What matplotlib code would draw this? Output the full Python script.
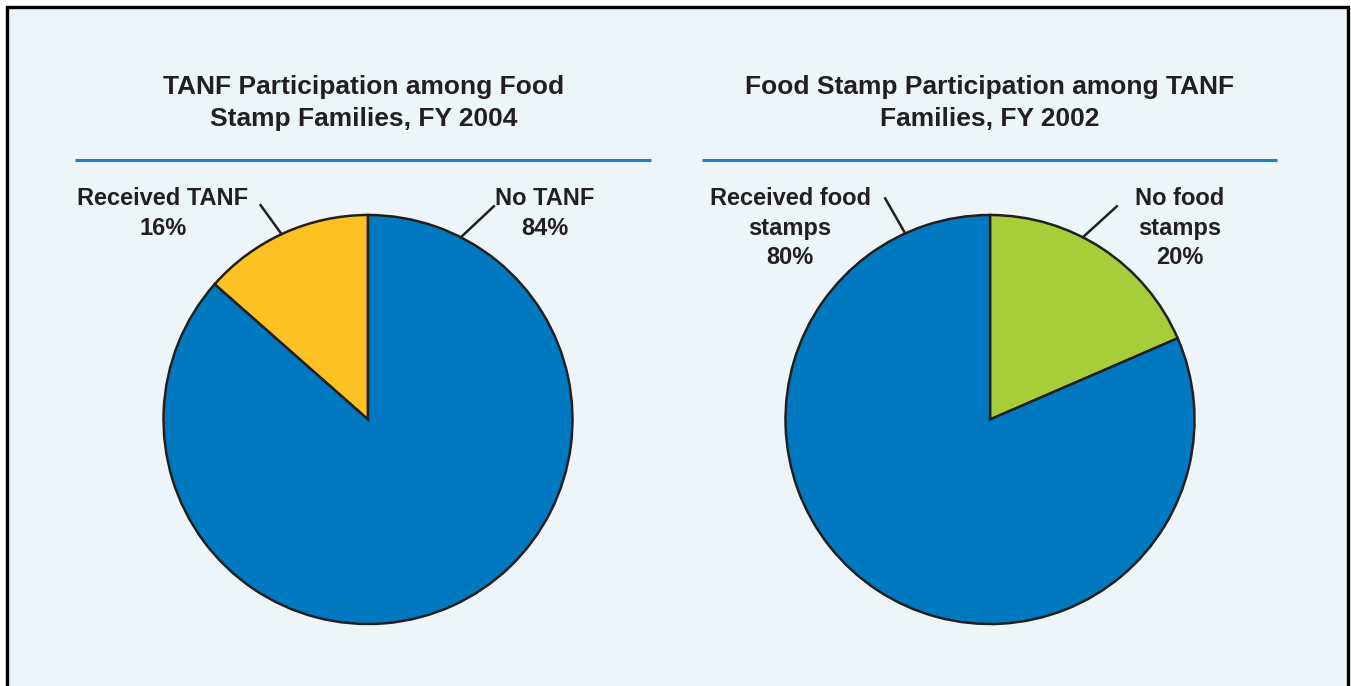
import numpy as np
import matplotlib.pyplot as plt
from matplotlib.patches import Rectangle

# --- data -----------------------------------------------------------------
left_title = "TANF Participation among Food\nStamp Families, FY 2004"
left_labels = ["Received TANF\n16%", "No TANF\n84%"]
left_shares = [13.5, 86.5]          # wedge sizes as drawn in the original

right_title = "Food Stamp Participation among TANF\nFamilies, FY 2002"
right_labels = ["No food\nstamps\n20%", "Received food\nstamps\n80%"]
right_shares = [18.5, 81.5]

BLUE = "#0079c1"
YELLOW = "#fdc124"
GREEN = "#a6ce39"
EDGE = "#231f20"
BG = "#edf5f9"
RULE = "#1b7fc4"

W, H = 1351, 686
fig = plt.figure(figsize=(W / 100, H / 100), dpi=100)
fig.patch.set_facecolor("white")
ax = fig.add_axes([0, 0, 1, 1])
ax.set_xlim(0, W)
ax.set_ylim(0, H)
ax.axis("off")


def py(y):
    # pixel row (top-down) -> data y
    return H - y


# panel frame (bottom edge runs off the image)
ax.add_patch(Rectangle((7, -20), 1341, py(7) + 20, facecolor=BG,
                       edgecolor="black", linewidth=2.4, zorder=0))

font = "Liberation Sans"
R = 204.5


def panel(cx, cy, title, rule, shares, colors, counterclock, labels):
    ax.text(cx - 4 if counterclock else cx, py(103), title, ha="center", va="center",
            fontsize=19, fontweight="bold", family=font, color=EDGE,
            linespacing=1.38)
    ax.plot(rule, [py(160), py(160)], color=RULE, lw=2.2, solid_capstyle="butt")
    ax.pie(shares, colors=colors, startangle=90, counterclock=counterclock,
           center=(cx, py(cy)), radius=R, frame=True,
           wedgeprops=dict(edgecolor=EDGE, linewidth=1.8))
    for text, ang, dx, dy, tx, ty in labels:
        x0 = cx + R * np.cos(np.radians(ang))
        y0 = py(cy) + R * np.sin(np.radians(ang))
        ax.plot([x0, x0 + dx], [y0, y0 + dy], color=EDGE, lw=1.8)
        ax.text(tx, py(ty), text, ha="center", va="top", fontsize=17,
                fontweight="bold", family=font, color=EDGE,
                linespacing=1.37)


panel(368, 419.5, left_title, [75, 651], left_shares, [YELLOW, BLUE], True,
      [(left_labels[0], 115, -21, 29, 163, 187),
       (left_labels[1], 63, 33, 31, 545, 187)])
panel(990, 419.5, right_title, [702, 1277], right_shares, [GREEN, BLUE], False,
      [(right_labels[0], 63, 34, 31, 1180, 187),
       (right_labels[1], 114.5, -20, 35, 790, 187)])

ax.set_xlim(0, W)
ax.set_ylim(0, H)
ax.set_aspect("auto")

fig.savefig("out.png", dpi=100, facecolor="white")
